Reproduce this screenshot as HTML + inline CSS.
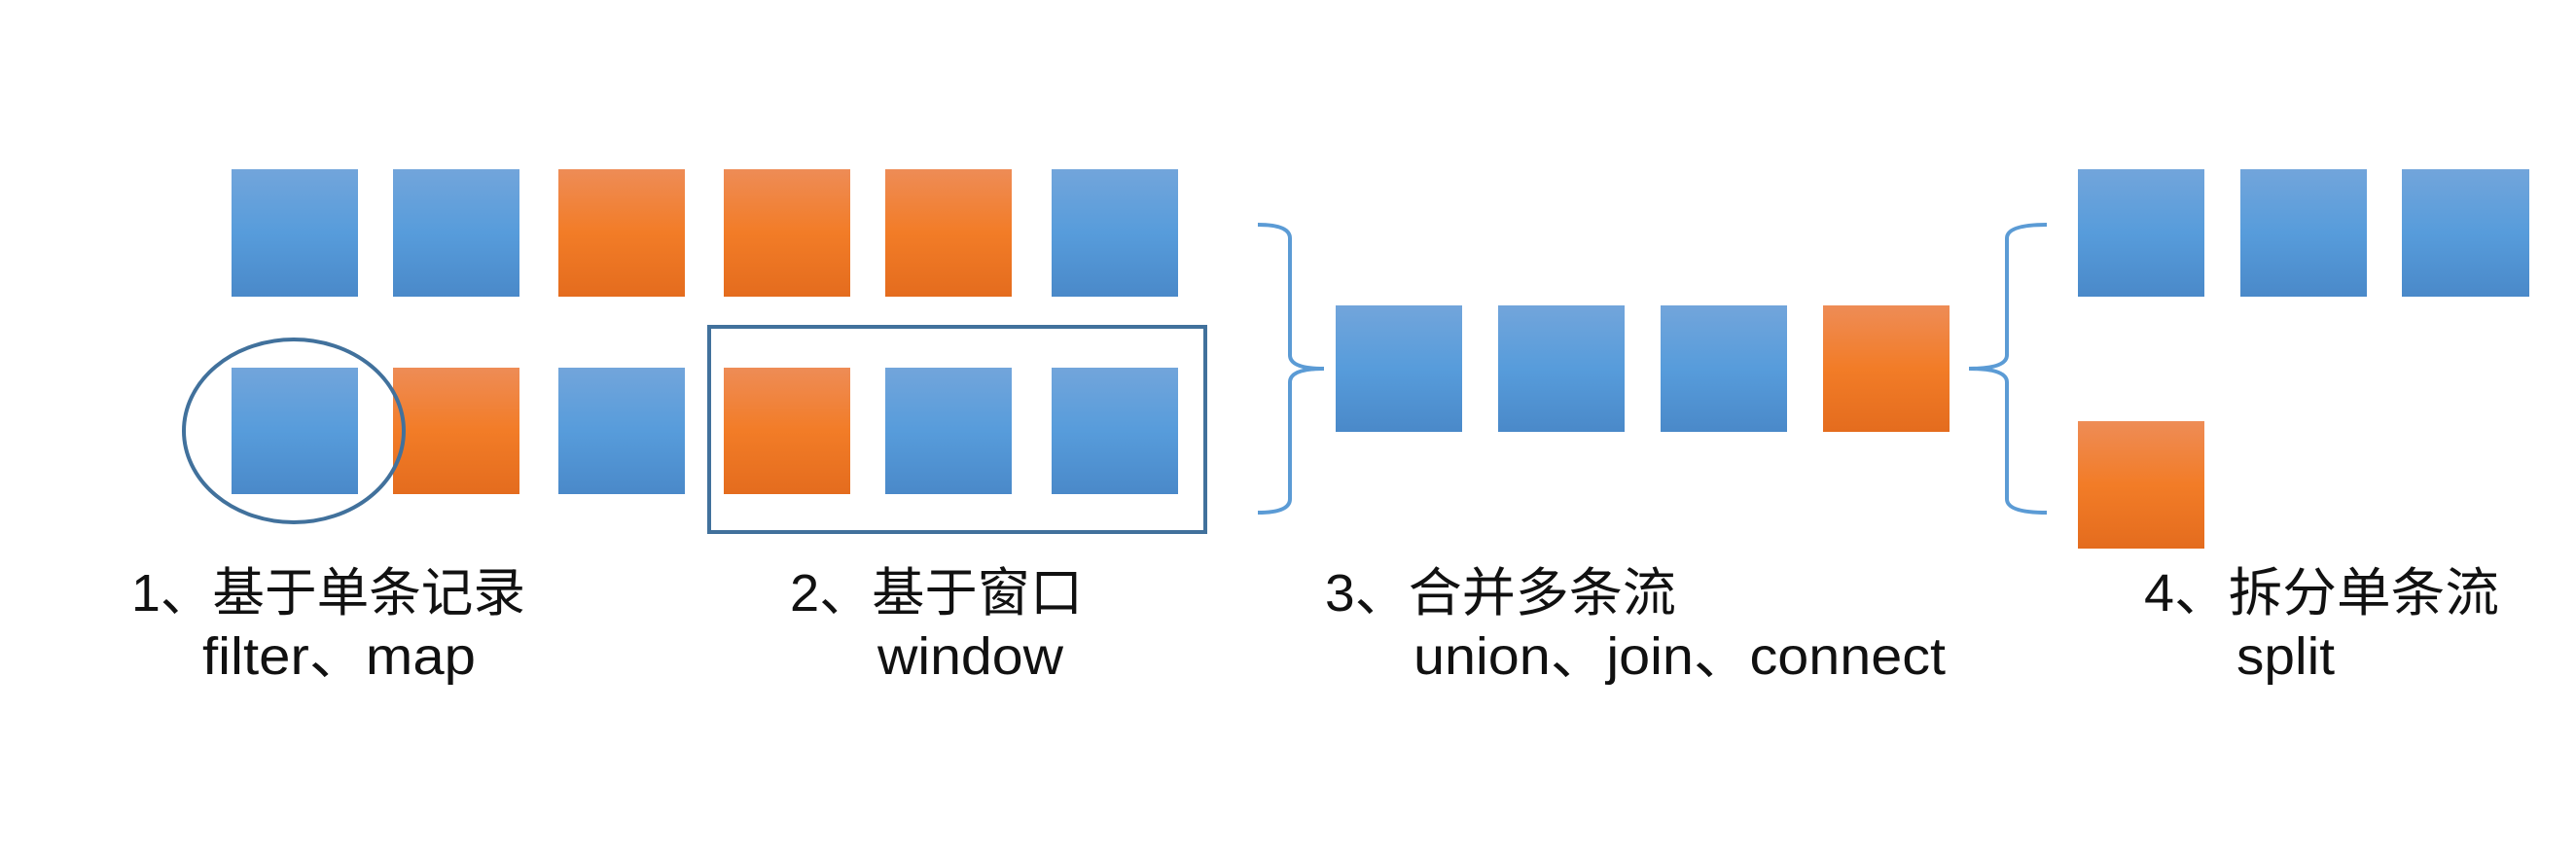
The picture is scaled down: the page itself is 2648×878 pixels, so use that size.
<!DOCTYPE html>
<html><head><meta charset="utf-8"><style>
html,body{margin:0;padding:0;background:#fff;}
svg{display:block;}
text{font-family:"Liberation Sans","Noto Sans CJK SC",sans-serif;fill:#111;}
</style></head><body>
<svg width="2648" height="878" viewBox="0 0 2648 878" xmlns="http://www.w3.org/2000/svg">
<defs>
<linearGradient id="b" x1="0" y1="0" x2="0" y2="1">
<stop offset="0" stop-color="#72a5db"/><stop offset="0.5" stop-color="#579cdb"/><stop offset="1" stop-color="#4a89c9"/></linearGradient>
<linearGradient id="o" x1="0" y1="0" x2="0" y2="1">
<stop offset="0" stop-color="#ee8c56"/><stop offset="0.5" stop-color="#f27c27"/><stop offset="1" stop-color="#e46c1e"/></linearGradient>
</defs>
<rect x="238" y="174" width="130" height="131" fill="url(#b)"/>
<rect x="404" y="174" width="130" height="131" fill="url(#b)"/>
<rect x="574" y="174" width="130" height="131" fill="url(#o)"/>
<rect x="744" y="174" width="130" height="131" fill="url(#o)"/>
<rect x="910" y="174" width="130" height="131" fill="url(#o)"/>
<rect x="1081" y="174" width="130" height="131" fill="url(#b)"/>
<rect x="238" y="378" width="130" height="130" fill="url(#b)"/>
<rect x="404" y="378" width="130" height="130" fill="url(#o)"/>
<rect x="574" y="378" width="130" height="130" fill="url(#b)"/>
<rect x="744" y="378" width="130" height="130" fill="url(#o)"/>
<rect x="910" y="378" width="130" height="130" fill="url(#b)"/>
<rect x="1081" y="378" width="130" height="130" fill="url(#b)"/>
<ellipse cx="302" cy="443" rx="113" ry="94" fill="none" stroke="#41719c" stroke-width="4"/>
<rect x="729" y="336" width="510" height="211" fill="none" stroke="#41719c" stroke-width="4"/>
<path d="M1293 231 Q1326 231 1326 245 L1326 365 Q1326 379 1361 379 Q1326 379 1326 393 L1326 513 Q1326 527 1293 527" fill="none" stroke="#5b9bd5" stroke-width="4"/>
<rect x="1373" y="314" width="130" height="130" fill="url(#b)"/>
<rect x="1540" y="314" width="130" height="130" fill="url(#b)"/>
<rect x="1707" y="314" width="130" height="130" fill="url(#b)"/>
<rect x="1874" y="314" width="130" height="130" fill="url(#o)"/>
<path d="M2104 231 Q2063 231 2063 245 L2063 365 Q2063 379 2024 379 Q2063 379 2063 393 L2063 513 Q2063 527 2104 527" fill="none" stroke="#5b9bd5" stroke-width="4"/>
<rect x="2136" y="174" width="130" height="131" fill="url(#b)"/>
<rect x="2303" y="174" width="130" height="131" fill="url(#b)"/>
<rect x="2469" y="174" width="131" height="131" fill="url(#b)"/>
<rect x="2136" y="433" width="130" height="131" fill="url(#o)"/>
<text x="135" y="628" font-size="54" textLength="405" lengthAdjust="spacingAndGlyphs">1、基于单条记录</text>
<text x="208" y="693" font-size="54" textLength="281" lengthAdjust="spacingAndGlyphs">filter、map</text>
<text x="812" y="628" font-size="54" textLength="301" lengthAdjust="spacingAndGlyphs">2、基于窗口</text>
<text x="902" y="693" font-size="54" textLength="191" lengthAdjust="spacingAndGlyphs">window</text>
<text x="1362" y="628" font-size="54" textLength="361" lengthAdjust="spacingAndGlyphs">3、合并多条流</text>
<text x="1453" y="693" font-size="54" textLength="547" lengthAdjust="spacingAndGlyphs">union、join、connect</text>
<text x="2204" y="628" font-size="54" textLength="365" lengthAdjust="spacingAndGlyphs">4、拆分单条流</text>
<text x="2299" y="693" font-size="54" textLength="101" lengthAdjust="spacingAndGlyphs">split</text>
</svg>
</body></html>
